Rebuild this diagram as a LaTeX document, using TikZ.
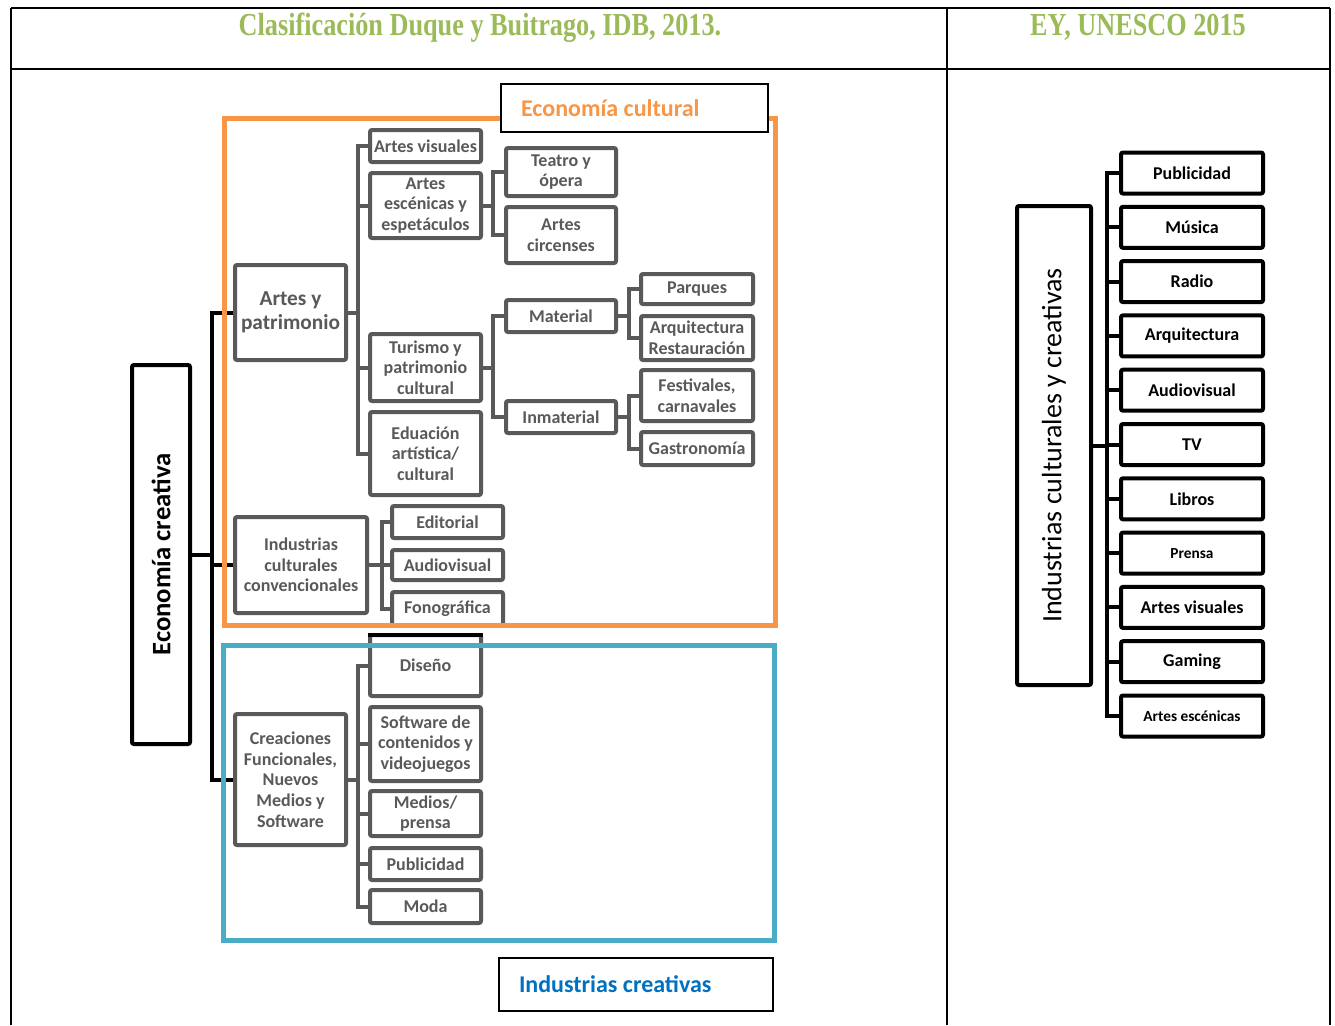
\documentclass[tikz,border=0pt]{standalone}
\usepackage{fontspec}
\setmainfont{Carlito}
\newfontfamily\headfont[FakeStretch=0.82]{Liberation Serif}
\usetikzlibrary{positioning}
\definecolor{boxgrey}{HTML}{595959}
\definecolor{headgreen}{HTML}{9BBB59}
\definecolor{ecorange}{HTML}{F79646}
\definecolor{indblue}{HTML}{4BACC6}
\definecolor{tagblue}{HTML}{0070C0}
\newdimen\pxu \pxu=0.75pt

\begin{document}
\begin{tikzpicture}[x=0.75pt,y=-0.75pt,
  sz/.style 2 args={minimum width=#1\pxu-3pt,minimum height=#2\pxu-3pt},
  gbox/.style={draw=boxgrey,line width=3pt,rounded corners=1.5pt,fill=white,text=boxgrey,align=center,inner sep=1pt,font=\bfseries\fontsize{13.5}{15.5}\selectfont},
  kbox/.style={draw=black,line width=3pt,rounded corners=1.5pt,fill=white,align=center,inner sep=1pt},
  gline/.style={draw=boxgrey,line width=3pt},
  kline/.style={draw=black,line width=3pt},
  tabline/.style={draw=black,line width=1.5pt},
  head/.style={font=\headfont\bfseries\fontsize{24}{26}\selectfont,text=headgreen},
  tagbox/.style={draw=black,line width=1.5pt,fill=white,align=flush left,font=\bfseries\fontsize{18}{21}\selectfont}]
\useasboundingbox (0,0) rectangle (1335,1025);

% table
\draw[tabline] (11,8) -- (1330,8);
\draw[tabline] (11,8) -- (11,1025);
\draw[tabline] (947,8) -- (947,1025);
\draw[tabline] (1330,8) -- (1330,1025);
\draw[black,line width=2.2pt] (11,69) -- (1330,69);
\node[head] (hidb) at (480,27.5) {Clasificación Duque y Buitrago, IDB, 2013.};
\node[head] (hey) at (1138,27.5) {EY, UNESCO 2015};

% left tree
\node[kbox,rotate=90,minimum width=383\pxu-3pt,minimum height=62\pxu-3pt,font=\bfseries\fontsize{20}{24}\selectfont] (ecocre) at (161,554.5) {Economía creativa};

\begin{scope}[every node/.style={gbox}]
  \node[sz={115}{99},font=\bfseries\fontsize{16}{18}\selectfont] (ayp) at (290.5,312.5) {Artes y\\patrimonio};
  \node[sz={115}{36}] (artvis) at (425.5,146) {Artes visuales};
  \node[sz={115}{69}] (artesc) at (425.5,205.5) {Artes\\escénicas y\\espetáculos};
  \node[sz={115}{71}] (turpat) at (425.5,367.5) {Turismo y\\patrimonio\\cultural};
  \node[sz={115}{87}] (eduart) at (425.5,453.5) {Eduación\\artística/\\cultural};
  \node[sz={114}{52}] (teatro) at (561,172) {Teatro y\\ópera};
  \node[sz={114}{60}] (circ) at (561,235) {Artes\\circenses};
  \node[sz={114}{36}] (mat) at (561,316) {Material};
  \node[sz={114}{36}] (inmat) at (561,417) {Inmaterial};
  \node[sz={116}{34}] (parq) at (697,289) {Parques};
  \node[sz={116}{48}] (arqres) at (697,338) {Arquitectura\\Restauración};
  \node[sz={116}{55}] (fest) at (697,395.5) {Festivales,\\carnavales};
  \node[sz={116}{37}] (gastro) at (697,448.5) {Gastronomía};
  \node[sz={136}{100}] (indconv) at (301,565) {Industrias\\culturales\\convencionales};
  \node[sz={115}{36}] (edit) at (447.5,522) {Editorial};
  \node[sz={115}{34}] (audvis) at (447.5,565) {Audiovisual};
  \node[sz={115}{37}] (fono) at (447.5,608.5) {Fonográfica};
  \node[sz={115}{135}] (creac) at (290.5,779.5) {Creaciones\\Funcionales,\\Nuevos\\Medios y\\Software};
  \node[sz={115}{65}] (dis) at (425.5,665.5) {Diseño};
  \node[sz={115}{78}] (soft) at (425.5,744) {Software de\\contenidos y\\videojuegos};
  \node[sz={115}{49}] (medios) at (425.5,813.5) {Medios/\\prensa};
  \node[sz={115}{36}] (publ) at (425.5,864) {Publicidad};
  \node[sz={115}{37}] (moda) at (425.5,906.5) {Moda};
\end{scope}
\draw[kline] ([yshift=-1.5pt]dis.north west) -- ([yshift=-1.5pt]dis.north east);

\foreach \c in {ayp,indconv,creac}
  \draw[kline] (ecocre.south) -- ++(20,0) |- (\c.west);
\foreach \c in {artvis,artesc,turpat,eduart}
  \draw[gline] (ayp.east) -- ++(10,0) |- (\c.west);
\foreach \c in {teatro,circ}
  \draw[gline] (artesc.east) -- ++(10,0) |- (\c.west);
\foreach \c in {mat,inmat}
  \draw[gline] (turpat.east) -- ++(10,0) |- (\c.west);
\foreach \c in {parq,arqres}
  \draw[gline] (mat.east) -- ++(11,0) |- (\c.west);
\foreach \c in {fest,gastro}
  \draw[gline] (inmat.east) -- ++(11,0) |- (\c.west);
\foreach \c in {edit,audvis,fono}
  \draw[gline] (indconv.east) -- ++(13,0) |- (\c.west);
\foreach \c in {dis,soft,medios,publ,moda}
  \draw[gline] (creac.east) -- ++(10,0) |- (\c.west);

% frames
\draw[ecorange,line width=3.75pt] (224.5,118.5) rectangle (775,625);
\draw[indblue,line width=3.75pt] (223,645) rectangle (774,940);
\node[tagbox,text=ecorange,text width=227\pxu,inner xsep=20\pxu,minimum height=50\pxu-1.5pt] (tagcult) at (634.5,108) {Economía cultural};
\node[tagbox,text=tagblue,text width=234\pxu,inner xsep=20\pxu,minimum height=55\pxu-1.5pt] (tagcrea) at (636,984.5) {Industrias creativas};

% right column
\node[kbox,rotate=90,minimum width=483\pxu-3pt,minimum height=78\pxu-3pt,font=\fontsize{21}{24}\selectfont] (icc) at (1054,445.5) {Industrias culturales y creativas};
\foreach \lbl/\fs [count=\i] in {Publicidad/13.5,Música/13.5,Radio/13.5,Arquitectura/13.5,Audiovisual/13.5,TV/13.5,Libros/13.5,Prensa/11.5,Artes visuales/13.5,Gaming/13.5,Artes escénicas/11.5}{
  \node[kbox,sz={146}{45},font=\bfseries\fontsize{\fs}{16}\selectfont] (ey\i) at (1192,{173+(\i-1)*54.3}) {\lbl};
  \draw[kline] (icc.south) -- ++(14,0) |- (ey\i.west);
}
\end{tikzpicture}
\end{document}
